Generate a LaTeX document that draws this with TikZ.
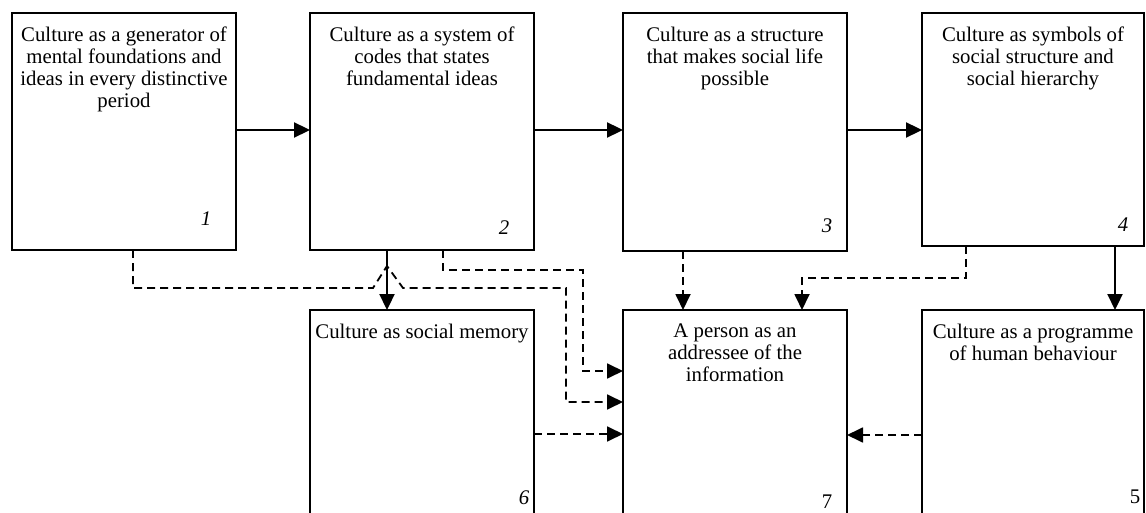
\documentclass[tikz,border=0pt]{standalone}
\usepackage{fontspec}
\setmainfont{Liberation Serif}
\usetikzlibrary{arrows.meta}
\tikzset{
  box/.style={draw, line width=1.6pt, inner sep=0pt, outer sep=0pt, rectangle},
  txt/.style={align=center, inner sep=0pt, anchor=north, font=\fontsize{20.8}{22}\selectfont},
  num/.style={inner sep=0pt, font=\fontsize{20.8}{22}\selectfont},
  solidarrow/.style={line width=2.3pt, -{Triangle[length=16pt,width=15pt]}},
  dasharrow/.style={line width=1.8pt, dash pattern=on 8pt off 5pt, -{Triangle[length=16pt,width=15pt]}}
}
\begin{document}
\begin{tikzpicture}[x=1pt,y=-1pt]
\useasboundingbox (0,0) rectangle (1146,513);
\clip (0,0) rectangle (1146,513);
% boxes
\node[box, minimum width=224pt, minimum height=237pt] (b1) at (124,131.5) {};
\node[box, minimum width=224pt, minimum height=237pt] (b2) at (422,131.5) {};
\node[box, minimum width=224pt, minimum height=238pt] (b3) at (735,132) {};
\node[box, minimum width=222pt, minimum height=233pt] (b4) at (1033,129.5) {};
\node[box, minimum width=224pt, minimum height=220pt] (b6) at (422,420) {};
\node[box, minimum width=224pt, minimum height=220pt] (b7) at (735,420) {};
\node[box, minimum width=222pt, minimum height=220pt] (b5) at (1033,420) {};
% texts
\node[txt] (t1) at (124,27) {Culture as a generator of\\mental foundations and\\ideas in every distinctive\\period};
\node[txt] (t2) at (422,27) {Culture as a system of\\codes that states\\fundamental ideas};
\node[txt] (t3) at (735,27) {Culture as a structure\\that makes social life\\possible};
\node[txt] (t4) at (1033,27) {Culture as symbols of\\social structure and\\social hierarchy};
\node[txt] (t6) at (422,324) {Culture as social memory};
\node[txt] (t7) at (735,324) {A person as an\\addressee of the\\information};
\node[txt] (t5) at (1033,324) {Culture as a programme\\of human behaviour};
% numbers
\node[num] (n1) at (206,219) {\itshape 1};
\node[num] (n2) at (504,228) {\itshape 2};
\node[num] (n3) at (827,226) {\itshape 3};
\node[num] (n4) at (1123,225) {\itshape 4};
\node[num] (n6) at (524,498) {\itshape 6};
\node[num] (n7) at (827,502) {7};
\node[num] (n5) at (1135,497) {5};
% solid connectors
\draw[solidarrow] (b1.east |- 0,130) -- (b2.west |- 0,130);
\draw[solidarrow] (b2.east |- 0,130) -- (b3.west |- 0,130);
\draw[solidarrow] (b3.east |- 0,130) -- (b4.west |- 0,130);
\draw[solidarrow] (b2.south -| 387,0) -- (b6.north -| 387,0);
\draw[solidarrow] (b4.south -| 1115,0) -- (b5.north -| 1115,0);
% dashed connectors
\draw[dasharrow] (b1.south -| 133,0) |- (373,288) -- (387,266) -- (403,288) -| (566,402) -- (b7.west |- 0,402);
\draw[dasharrow] (b2.south -| 443,0) |- (583,270) |- (b7.west |- 0,371);
\draw[dasharrow] (b6.east |- 0,434) -- (b7.west |- 0,434);
\draw[dasharrow] (b3.south -| 683,0) -- (b7.north -| 683,0);
\draw[dasharrow] (b4.south -| 966,0) |- (802,278) -- (b7.north -| 802,0);
\draw[dasharrow] (b5.west |- 0,435) -- (b7.east |- 0,435);
\end{tikzpicture}
\end{document}
